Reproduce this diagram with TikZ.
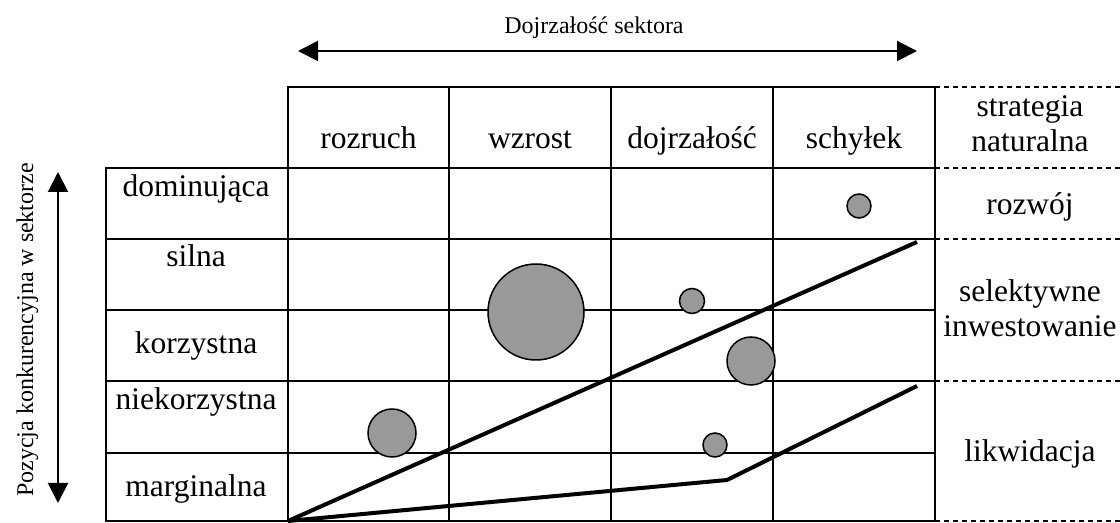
\documentclass[tikz,border=0pt]{standalone}
\usepackage{fontspec}
\setmainfont{Liberation Serif}
\usetikzlibrary{arrows.meta}
\definecolor{bubblegray}{HTML}{999999}
\tikzset{
  gridline/.style={line width=1.2pt, line cap=rect},
  dashline/.style={line width=0.75pt, dash pattern=on 2.5pt off 2pt},
  trend/.style={line width=2pt, line join=miter},
  axisarrow/.style={line width=1pt, {Triangle[length=10pt,width=10pt]}-{Triangle[length=10pt,width=10pt]}},
  bubble/.style={circle, draw, line width=0.75pt, fill=bubblegray, inner sep=0pt, outer sep=0pt},
  maintext/.style={font=\fontsize{15.75}{17.5}\selectfont, anchor=base, inner sep=0pt},
  smalltext/.style={font=\fontsize{12}{14}\selectfont, anchor=base, inner sep=0pt}
}
\begin{document}
\begin{tikzpicture}[x=0.5pt, y=-0.5pt]
\path[use as bounding box] (0,0) rectangle (1120,523);

% dashed extension lines (right column)
\foreach \yy in {87,168,239,381,521}
  \draw[dashline] (935,\yy) -- (1120,\yy);

% grid
\draw[gridline] (288,87) -- (935,87);
\foreach \yy in {168,239,310,381,453,521}
  \draw[gridline] (106,\yy) -- (935,\yy);
\draw[gridline] (106,168) -- (106,521);
\foreach \xx in {288,449,611,773,935}
  \draw[gridline] (\xx,87) -- (\xx,521);

% header labels
\node[maintext] (h1) at (368.5,149) {rozruch};
\node[maintext] (h2) at (530,149) {wzrost};
\node[maintext] (h3) at (692,149) {dojrzałość};
\node[maintext] (h4) at (854,149) {schyłek};

% row labels
\node[maintext] (r1) at (196,197) {dominująca};
\node[maintext] (r2) at (196,267) {silna};
\node[maintext] (r3) at (196,354) {korzystna};
\node[maintext] (r4) at (196,410) {niekorzystna};
\node[maintext] (r5) at (196,497) {marginalna};

% strategy column
\node[maintext] (s1a) at (1030,117) {strategia};
\node[maintext] (s1b) at (1030,152) {naturalna};
\node[maintext] (s2) at (1030,215) {rozwój};
\node[maintext] (s3a) at (1030,302) {selektywne};
\node[maintext] (s3b) at (1030,337) {inwestowanie};
\node[maintext] (s4) at (1030,462) {likwidacja};

% bubbles
\node[bubble, minimum size=12pt] (b1) at (859,206) {};
\node[bubble, minimum size=48pt] (b2) at (536,312) {};
\node[bubble, minimum size=12.5pt] (b3) at (692,301) {};
\node[bubble, minimum size=24pt] (b4) at (751,361) {};
\node[bubble, minimum size=24pt] (b5) at (392,433) {};
\node[bubble, minimum size=12pt] (b6) at (715,445) {};

% trend lines
\coordinate (o) at (288,521);
\coordinate (u) at (917,242);
\coordinate (k) at (727,480);
\coordinate (l) at (917,386);
\draw[trend] (o) -- (u);
\draw[trend] (o) -- (k) -- (l);

% top axis
\coordinate (tl) at (298,51);
\coordinate (tr) at (917,51);
\draw[axisarrow] (tl) -- (tr);
\node[smalltext] (title) at (594,34) {Dojrzałość sektora};

% left axis
\coordinate (vt) at (58,172);
\coordinate (vb) at (58,503);
\draw[axisarrow] (vt) -- (vb);
\node[smalltext, rotate=90] (ylab) at (33,330) {Pozycja konkurencyjna w sektorze};
\end{tikzpicture}
\end{document}
